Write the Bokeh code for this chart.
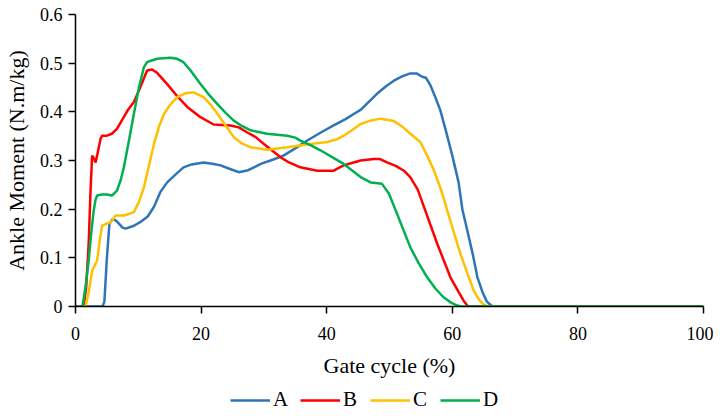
from bokeh.plotting import figure
from bokeh.models import Legend, LegendItem, FixedTicker
from bokeh.layouts import column
from bokeh.embed import file_html
from bokeh.resources import INLINE

# ---- data ----
a_x = [0, 4.3, 4.6, 5.0, 5.4, 5.9, 6.5, 7.5, 8.0, 9.3, 10.5, 11.5, 12.5, 13.5, 14.6, 16.0, 17.2, 18.5, 20.4,
       22.0, 23.1, 24.5, 26.0, 27.5, 29.5, 31.5, 33.1, 35.0, 36.9, 39.0, 41.1, 43.0, 44.5, 45.4, 46.5, 48.0,
       49.5, 50.7, 52.0, 53.3, 54.3, 55.2, 55.8, 56.5, 57.3, 58.1, 59.0, 60.0, 61.0, 61.6, 62.5, 63.3, 64.0,
       64.8, 65.5, 66.4, 80, 100]
a_y = [0, 0, 0.01, 0.10, 0.17, 0.18, 0.176, 0.162, 0.16, 0.166, 0.175, 0.185, 0.205, 0.235, 0.255, 0.272,
       0.286, 0.292, 0.296, 0.293, 0.29, 0.283, 0.276, 0.28, 0.293, 0.302, 0.31, 0.325, 0.341, 0.357, 0.372,
       0.385, 0.397, 0.404, 0.418, 0.437, 0.453, 0.464, 0.473, 0.479, 0.479, 0.472, 0.47, 0.455, 0.43, 0.403,
       0.36, 0.31, 0.255, 0.2, 0.15, 0.105, 0.06, 0.03, 0.01, 0.0, 0, 0]

b_x = [0, 1.3, 1.7, 2.1, 2.4, 2.65, 2.9, 3.2, 3.6, 4.0, 4.25, 5.0, 5.8, 6.6, 7.5, 8.4, 9.3, 10.3, 11.4, 12.2,
       13.0, 14.6, 16.2, 17.8, 19.9, 22.0, 24.7, 26.0, 27.3, 28.7, 30.0, 32.6, 34.0, 35.8, 38.5, 40.0, 41.1,
       42.7, 44.0, 45.4, 47.5, 48.5, 49.6, 51.0, 52.3, 53.3, 54.5, 55.7, 57.6, 59.7, 61.0, 61.8, 62.5, 100]
b_y = [0, 0, 0.04, 0.13, 0.24, 0.31, 0.305, 0.296, 0.32, 0.345, 0.351, 0.351, 0.355, 0.365, 0.385, 0.405,
       0.42, 0.45, 0.485, 0.487, 0.48, 0.457, 0.432, 0.41, 0.389, 0.374, 0.372, 0.368, 0.358, 0.348, 0.334,
       0.307, 0.296, 0.286, 0.279, 0.279, 0.279, 0.29, 0.295, 0.3, 0.303, 0.303, 0.296, 0.289, 0.279, 0.266,
       0.24, 0.197, 0.129, 0.06, 0.03, 0.012, 0, 0]

c_x = [0, 1.6, 2.1, 2.65, 3.1, 3.45, 3.9, 4.25, 4.9, 5.6, 6.4, 7.7, 8.5, 9.3, 10.1, 10.9, 11.7, 12.5, 13.3,
       14.1, 15.1, 16.2, 17.5, 18.8, 20.4, 21.5, 22.6, 23.9, 25.2, 26.5, 27.9, 30.5, 33.7, 37.4, 40.1, 41.5,
       42.7, 44.0, 45.4, 47.0, 48.6, 50.7, 52.0, 53.3, 54.9, 56.0, 57.1, 58.2, 59.2, 60.3, 61.3, 62.4, 63.4,
       64.3, 65.0, 65.7, 100]
c_y = [0, 0, 0.03, 0.074, 0.085, 0.095, 0.14, 0.166, 0.17, 0.173, 0.187, 0.187, 0.19, 0.194, 0.215, 0.245,
       0.29, 0.334, 0.37, 0.396, 0.415, 0.43, 0.438, 0.44, 0.43, 0.415, 0.396, 0.372, 0.348, 0.335, 0.327,
       0.322, 0.327, 0.334, 0.338, 0.343, 0.351, 0.362, 0.375, 0.382, 0.386, 0.381, 0.37, 0.355, 0.338, 0.31,
       0.279, 0.24, 0.197, 0.15, 0.108, 0.068, 0.033, 0.013, 0.004, 0, 0]

d_x = [0, 1.1, 1.6, 2.1, 2.5, 2.9, 3.2, 3.45, 4.2, 5.0, 5.8, 6.6, 7.2, 7.7, 8.5, 9.3, 10.1, 10.9, 11.4, 12.0,
       13.0, 14.0, 15.1, 16.2, 17.2, 18.5, 19.9, 21.2, 22.6, 23.9, 25.2, 26.5, 27.9, 30.5, 33.7, 35.0, 35.8,
       37.5, 39.0, 41.0, 42.7, 44.0, 45.4, 47.0, 48.8, 49.9, 51.0, 52.2, 53.3, 54.6, 56.0, 57.3, 58.6, 59.8,
       60.8, 61.4, 100]
d_y = [0, 0, 0.04, 0.095, 0.15, 0.197, 0.22, 0.228, 0.23, 0.23, 0.228, 0.238, 0.26, 0.286, 0.34, 0.396,
       0.45, 0.492, 0.502, 0.505, 0.509, 0.51, 0.511, 0.509, 0.502, 0.482, 0.457, 0.436, 0.416, 0.398, 0.382,
       0.371, 0.362, 0.355, 0.351, 0.347, 0.341, 0.331, 0.321, 0.306, 0.293, 0.28, 0.266, 0.255, 0.252, 0.232,
       0.197, 0.158, 0.122, 0.09, 0.06, 0.037, 0.019, 0.008, 0.002, 0, 0]

series_names = ["A", "B", "C", "D"]
series_colors = ["#2E75B6", "#FF0000", "#FFC000", "#00B050"]
x_ticks = [0, 20, 40, 60, 80, 100]
y_ticks = [0, 0.1, 0.2, 0.3, 0.4, 0.5, 0.6]

FONT = "Liberation Serif"

p = figure(width=713, height=380, x_range=(0, 100), y_range=(0, 0.6),
           output_backend="svg", toolbar_location=None,
           min_border_left=75, min_border_right=10, min_border_top=14, min_border_bottom=74)
p.xgrid.visible = False
p.ygrid.visible = False
p.outline_line_color = None

for xs, ys, col in zip([a_x, b_x, c_x, d_x], [a_y, b_y, c_y, d_y], series_colors):
    p.line(xs, ys, line_color=col, line_width=2.5)

for ax in (p.xaxis[0], p.yaxis[0]):
    ax.axis_line_color = "black"
    ax.axis_line_width = 1.5
    ax.major_tick_line_color = "black"
    ax.major_tick_line_width = 1.5
    ax.major_tick_in = 0
    ax.major_tick_out = 7
    ax.minor_tick_line_color = None
    ax.major_label_text_font = FONT
    ax.major_label_text_font_size = "18px"
    ax.major_label_text_color = "black"
    ax.axis_label_text_font = FONT
    ax.axis_label_text_font_size = "22px"
    ax.axis_label_text_font_style = "normal"
    ax.axis_label_text_color = "black"

p.xaxis.ticker = FixedTicker(ticks=x_ticks)
p.yaxis.ticker = FixedTicker(ticks=y_ticks)
p.yaxis.major_label_overrides = {0: "0"}
p.xaxis.axis_label = "Gate cycle (%)"
p.yaxis.axis_label = "Ankle Moment (N.m/kg)"
p.xaxis.major_label_standoff = 13
p.xaxis.axis_label_standoff = 10
p.yaxis.major_label_standoff = 6
p.yaxis.axis_label_standoff = 8

# legend strip below the chart (legend entries only; the dummy lines hold no drawable point)
nan = float("nan")
leg = figure(width=713, height=32, output_backend="svg", toolbar_location=None,
             x_axis_type=None, y_axis_type=None,
             min_border=0, min_border_left=0, min_border_right=0, min_border_top=0, min_border_bottom=0,
             x_range=(0, 1), y_range=(0, 1))
leg.xgrid.visible = False
leg.ygrid.visible = False
leg.outline_line_color = None
leg_renderers = [leg.line(x=[nan], y=[nan], line_color=c, line_width=2.5) for c in series_colors]

legend = Legend(items=[LegendItem(label=n, renderers=[r]) for n, r in zip(series_names, leg_renderers)],
                orientation="horizontal", location=(155, 0))
legend.glyph_width = 40
legend.glyph_height = 16
legend.label_standoff = 3
legend.spacing = 7
legend.padding = 0
legend.margin = 0
legend.border_line_color = None
legend.background_fill_alpha = 0
legend.label_text_font = FONT
legend.label_text_font_size = "21px"
legend.label_text_color = "black"
leg.add_layout(legend, "center")

layout = column(p, leg, spacing=0)
open("out.html", "w").write(file_html(layout, INLINE))
